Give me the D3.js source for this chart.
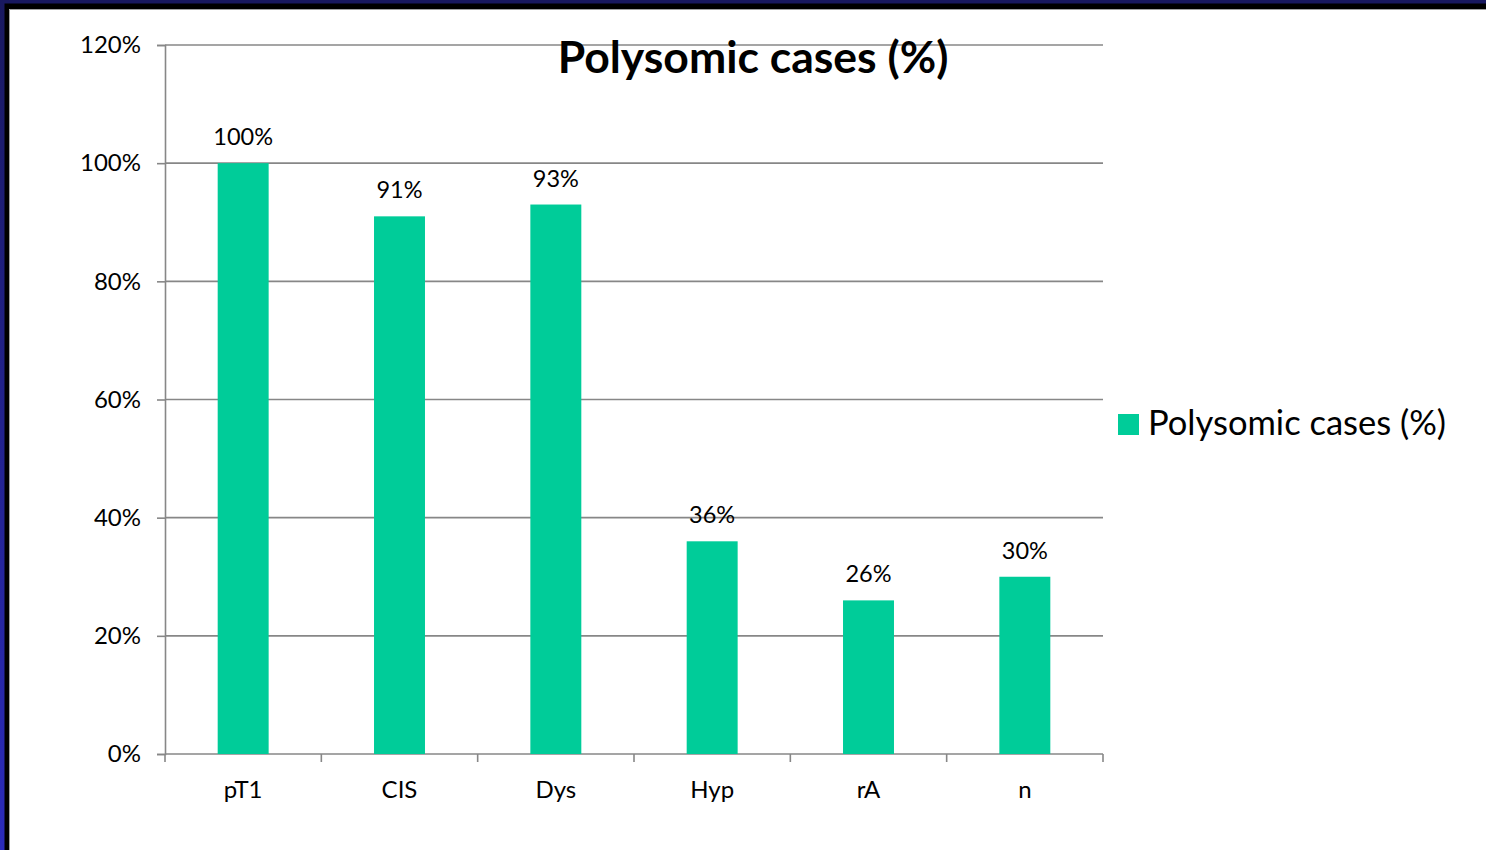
<!DOCTYPE html>
<html>
<head>
<meta charset="utf-8">
<script src="https://cdn.jsdelivr.net/npm/d3@7"></script>
<style>
  html, body { margin: 0; padding: 0; background: #fff; }
  svg { display: block; }
  text { font-family: Lato, "Noto Sans", sans-serif; fill: #000; }
</style>
</head>
<body>
<svg id="chart" width="1486" height="850"></svg>
<script>
// Chart data
const categories = ["pT1", "CIS", "Dys", "Hyp", "rA", "n"];
const values = [1.00, 0.91, 0.93, 0.36, 0.26, 0.30];
const yTicks = [0, 0.2, 0.4, 0.6, 0.8, 1.0, 1.2];
const seriesName = "Polysomic cases (%)";
const titleText = "Polysomic cases (%)";

const W = 1486, H = 850;
const svg = d3.select("#chart");

// Slide frame: navy band on top, gradient band on the left, black inner rim
const defs = svg.append("defs");
const grad = defs.append("linearGradient")
  .attr("id", "leftBand").attr("x1", 0).attr("y1", 0).attr("x2", 0).attr("y2", 1);
grad.append("stop").attr("offset", "0%").attr("stop-color", "#191960");
grad.append("stop").attr("offset", "100%").attr("stop-color", "#2b2bbb");

svg.append("rect").attr("x", 0).attr("y", 0).attr("width", W).attr("height", H).attr("fill", "#fff");
svg.append("rect").attr("x", 0).attr("y", 0).attr("width", W).attr("height", 9).attr("fill", "#000");
svg.append("rect").attr("x", 0).attr("y", 0).attr("width", 9).attr("height", H).attr("fill", "#000");
svg.append("rect").attr("x", 0).attr("y", 0).attr("width", W).attr("height", 3.5).attr("fill", "#191960");
svg.append("rect").attr("x", 0).attr("y", 0).attr("width", 4.5).attr("height", H).attr("fill", "url(#leftBand)");
svg.append("line").attr("x1", 9.5).attr("x2", W).attr("y1", 9.5).attr("y2", 9.5)
  .attr("stroke", "#a0a0a0").attr("stroke-width", 1);
svg.append("line").attr("x1", 9.5).attr("x2", 9.5).attr("y1", 9.5).attr("y2", H)
  .attr("stroke", "#a0a0a0").attr("stroke-width", 1);

// Plot area
const plot = { left: 165, right: 1103, top: 45, bottom: 754 };

const x = d3.scaleBand()
  .domain(categories)
  .range([plot.left, plot.right])
  .paddingInner(0.674)
  .paddingOuter(0.337);

const xTickScale = d3.scaleBand().domain(categories).range([plot.left, plot.right]);

const y = d3.scaleLinear().domain([0, 1.2]).range([plot.bottom, plot.top]);

const gridColor = "#878787";

// Horizontal gridlines
svg.append("g").selectAll("line")
  .data(yTicks.filter(d => d > 0))
  .join("line")
  .attr("x1", plot.left).attr("x2", plot.right)
  .attr("y1", d => y(d)).attr("y2", d => y(d))
  .attr("stroke", gridColor).attr("stroke-width", 1.6);

// Y axis
const yAxis = svg.append("g")
  .attr("transform", `translate(${plot.left},0)`)
  .call(d3.axisLeft(y).tickValues(yTicks).tickFormat(d3.format(".0%")).tickSize(8).tickPadding(16));
yAxis.select(".domain").attr("stroke", gridColor).attr("stroke-width", 1.6);
yAxis.selectAll(".tick line").attr("stroke", gridColor).attr("stroke-width", 1.6);
yAxis.selectAll(".tick text").style("font-size", "24px").attr("fill", "#000");

// X axis with ticks at category boundaries
const xAxis = svg.append("g")
  .attr("transform", `translate(0,${plot.bottom})`)
  .call(d3.axisBottom(x).tickSize(0).tickPadding(27));
xAxis.select(".domain").remove();
xAxis.selectAll(".tick text").style("font-size", "24px").attr("fill", "#000");

const bounds = categories.map(c => xTickScale(c)).concat([plot.right]);
const xLine = svg.append("g");
xLine.append("line")
  .attr("x1", plot.left).attr("x2", plot.right)
  .attr("y1", plot.bottom).attr("y2", plot.bottom)
  .attr("stroke", gridColor).attr("stroke-width", 1.6);
xLine.selectAll("line.tick")
  .data(bounds)
  .join("line").attr("class", "tick")
  .attr("x1", d => d).attr("x2", d => d)
  .attr("y1", plot.bottom).attr("y2", plot.bottom + 8)
  .attr("stroke", gridColor).attr("stroke-width", 1.6);

// Bars
const barColor = "#00cc99";
svg.append("g").selectAll("rect")
  .data(values)
  .join("rect")
  .attr("x", (d, i) => x(categories[i]))
  .attr("width", x.bandwidth())
  .attr("y", d => y(d))
  .attr("height", d => y(0) - y(d))
  .attr("fill", barColor);

// Value labels
svg.append("g").selectAll("text")
  .data(values)
  .join("text")
  .attr("x", (d, i) => x(categories[i]) + x.bandwidth() / 2)
  .attr("y", d => y(d) - 18)
  .attr("text-anchor", "middle")
  .style("font-size", "23.5px")
  .text(d => d3.format(".0%")(d));

// Title
svg.append("text")
  .attr("x", 753).attr("y", 73)
  .attr("text-anchor", "middle")
  .style("font-size", "44.5px").style("font-weight", "bold")
  .text(titleText);

// Legend
const legend = svg.append("g").attr("transform", "translate(1118,414)");
legend.append("rect").attr("width", 21).attr("height", 21).attr("fill", barColor);
legend.append("text").attr("x", 30).attr("y", 21)
  .style("font-size", "34.5px")
  .text(seriesName);
</script>
</body>
</html>
